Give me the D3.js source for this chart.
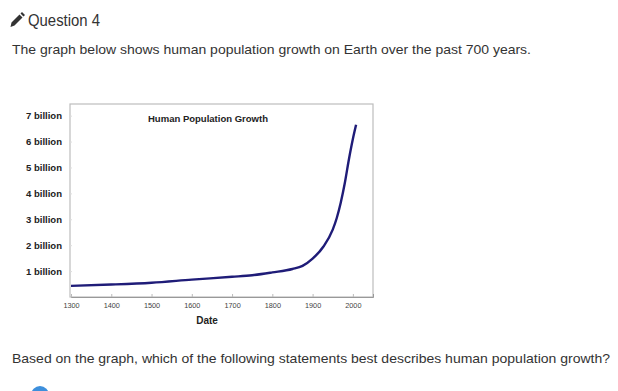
<!DOCTYPE html>
<html><head><meta charset="utf-8">
<script src="https://cdn.jsdelivr.net/npm/d3@7"></script>
<style>
html,body{margin:0;padding:0;background:#fff;}
svg{display:block;font-family:"Liberation Sans",Arial,sans-serif;}
</style></head>
<body>
<svg id="c" width="618" height="391"></svg>
<script>
const years = [1300,1400,1500,1600,1700,1750,1800,1850,1875,1900,1927,1950,1960,1970,1980,1990,2000,2008];
const population = [0.43,0.48,0.55,0.67,0.78,0.84,0.95,1.08,1.2,1.48,1.95,2.6,3.05,3.65,4.4,5.3,6.1,6.65];
const yTicks = [1,2,3,4,5,6,7];
const yTickLabels = ["1 billion","2 billion","3 billion","4 billion","5 billion","6 billion","7 billion"];
const xTicks = [1300,1400,1500,1600,1700,1800,1900,2000];

const svg = d3.select("#c");

// header
svg.append("path")
  .attr("d","M10.5,27 L11.5,22.5 L19.5,14.5 L22.5,17.5 L14.5,25.5 Z M20.5,13.5 L22,12 L25,15 L23.5,16.5 Z")
  .attr("fill","#333");
svg.append("text").attr("x",28).attr("y",26).attr("font-size",17).attr("fill","#333")
  .attr("textLength",72).attr("lengthAdjust","spacingAndGlyphs").text("Question 4");
svg.append("text").attr("x",12).attr("y",54).attr("font-size",13).attr("fill","#333")
  .attr("textLength",519).attr("lengthAdjust","spacingAndGlyphs")
  .text("The graph below shows human population growth on Earth over the past 700 years.");
svg.append("text").attr("x",12).attr("y",363).attr("font-size",13).attr("fill","#333")
  .attr("textLength",598).attr("lengthAdjust","spacingAndGlyphs")
  .text("Based on the graph, which of the following statements best describes human population growth?");
svg.append("circle").attr("cx",40).attr("cy",395).attr("r",9).attr("fill","#3d8fdc");

// chart
const x = d3.scaleLinear().domain([1300,2050]).range([71,373]);
const y = d3.scaleLinear().domain([0,7.45]).range([297,104]);

svg.append("rect").attr("x",70).attr("y",y(7.45)).attr("width",x(2050)-70).attr("height",y(0)-y(7.45))
  .attr("fill","#fff").attr("stroke","#bdbdbd").attr("stroke-width",1.2);

const yAxis = svg.append("g").attr("transform","translate(70,0)")
  .call(d3.axisLeft(y).tickValues(yTicks).tickFormat((d,i)=>yTickLabels[i]).tickSize(-2).tickPadding(8));
yAxis.select(".domain").remove();
yAxis.selectAll("line").attr("stroke","#ddd");
yAxis.selectAll("text").attr("font-size",9.6).attr("font-weight","bold").attr("fill","#222")
  .attr("font-family","'Liberation Sans',Arial,sans-serif")
  .attr("textLength",36).attr("lengthAdjust","spacingAndGlyphs");

const xAxis = svg.append("g").attr("transform",`translate(0,${y(0)})`)
  .call(d3.axisBottom(x).tickValues(xTicks).tickFormat(d3.format("d")).tickSize(-3).tickPadding(6));
xAxis.select(".domain").attr("stroke","#999");
xAxis.selectAll("line").attr("stroke","#bbb");
xAxis.selectAll("text").attr("font-size",7.3).attr("fill","#444")
  .attr("font-family","'Liberation Sans',Arial,sans-serif");

svg.append("text").attr("x",207).attr("y",324).attr("text-anchor","middle")
  .attr("font-size",10).attr("font-weight","bold").attr("fill","#222").text("Date");
svg.append("text").attr("x",208).attr("y",122).attr("text-anchor","middle")
  .attr("font-size",9.5).attr("font-weight","bold").attr("fill","#222")
  .attr("textLength",120).attr("lengthAdjust","spacingAndGlyphs").text("Human Population Growth");

const line = d3.line().x((d,i)=>x(years[i])).y(d=>y(d)).curve(d3.curveMonotoneX);
svg.append("path").datum(population).attr("d",line)
  .attr("fill","none").attr("stroke","#1f1c78").attr("stroke-width",2.4);
</script>
</body></html>
